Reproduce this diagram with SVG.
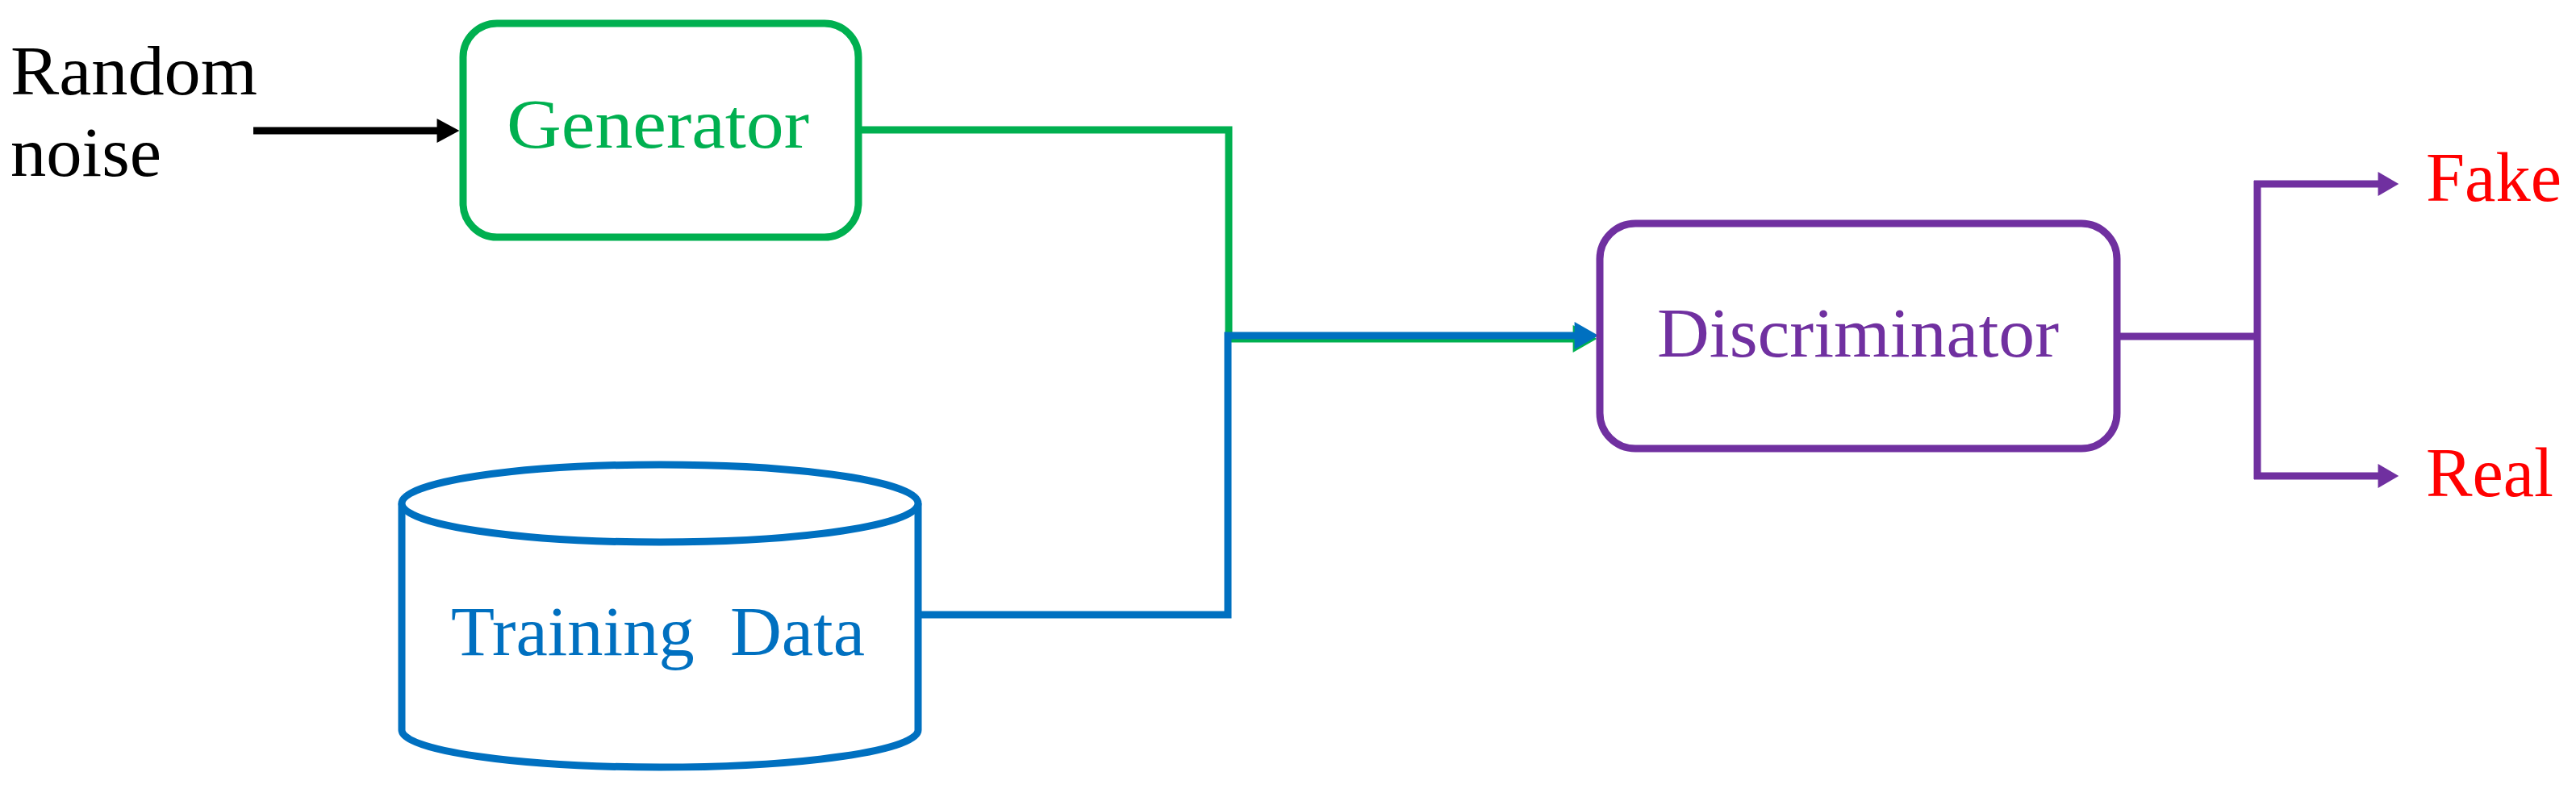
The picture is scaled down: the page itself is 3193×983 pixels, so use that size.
<svg xmlns="http://www.w3.org/2000/svg" width="3193" height="983" viewBox="0 0 3193 983">
<style>
.lbl{font-family:"Liberation Serif",serif;font-size:86px}
.box{fill:#ffffff;stroke-width:9}
.conn{fill:none;stroke-width:9;stroke-linecap:butt}
</style>
<defs>
<marker id="ahBlack" markerUnits="userSpaceOnUse" markerWidth="30" markerHeight="30" viewBox="0 0 26 28" refX="6" refY="14" orient="auto"><path d="M0,0 L26,14 L0,28 z" fill="#000000"/></marker>
<marker id="ahGreen" markerUnits="userSpaceOnUse" markerWidth="32" markerHeight="34" viewBox="0 0 28 32" refX="6" refY="16" orient="auto"><path d="M0,0 L28,16 L0,32 z" fill="#00B050"/></marker>
<marker id="ahBlue" markerUnits="userSpaceOnUse" markerWidth="32" markerHeight="34" viewBox="0 0 28 32" refX="6" refY="16" orient="auto"><path d="M0,0 L28,16 L0,32 z" fill="#0070C0"/></marker>
<marker id="ahPurple" markerUnits="userSpaceOnUse" markerWidth="30" markerHeight="30" viewBox="0 0 24 28" refX="6" refY="14" orient="auto"><path d="M0,0 L24,14 L0,28 z" fill="#7030A0"/></marker>
</defs>
<rect width="3193" height="983" fill="#ffffff"/>
<g id="connectors">
<line class="conn" x1="314" y1="162" x2="548" y2="162" stroke="#000000" marker-end="url(#ahBlack)"/>
<path class="conn" d="M1068,161 H1523 V420 H1956" stroke="#00B050" marker-end="url(#ahGreen)"/>
<path class="conn" d="M1140,762 H1522 V416 H1958" stroke="#0070C0" stroke-width="10" marker-end="url(#ahBlue)"/>
<path class="conn" d="M2628,417 H2798" stroke="#7030A0"/>
<path class="conn" d="M2798,224 V594" stroke="#7030A0"/>
<path class="conn" d="M2794,228 H2954" stroke="#7030A0" marker-end="url(#ahPurple)"/>
<path class="conn" d="M2794,590 H2954" stroke="#7030A0" marker-end="url(#ahPurple)"/>
</g>
<g id="random-noise">
<text class="lbl" font-family="Liberation Serif, serif" x="13" y="117" textLength="306" lengthAdjust="spacingAndGlyphs" fill="#000000">Random</text>
<text class="lbl" font-family="Liberation Serif, serif" x="13" y="218" textLength="187" lengthAdjust="spacingAndGlyphs" fill="#000000">noise</text>
</g>
<g id="generator">
<rect class="box" x="574" y="29" width="490" height="265" rx="42" ry="42" stroke="#00B050"/>
<text class="lbl" font-family="Liberation Serif, serif" x="628" y="183" textLength="375" lengthAdjust="spacingAndGlyphs" fill="#00B050">Generator</text>
</g>
<g id="training-data">
<path class="box" d="M498,624 V905 A320,46 0 0 0 1138,905 V624" stroke="#0070C0"/>
<ellipse class="box" cx="818" cy="624" rx="320" ry="48" stroke="#0070C0"/>
<text class="lbl" font-family="Liberation Serif, serif" x="559" y="812" textLength="513" lengthAdjust="spacingAndGlyphs" fill="#0070C0" xml:space="preserve">Training  Data</text>
</g>
<g id="discriminator">
<rect class="box" x="1983" y="277" width="641" height="279" rx="44" ry="44" stroke="#7030A0"/>
<text class="lbl" font-family="Liberation Serif, serif" x="2054" y="442" textLength="498" lengthAdjust="spacingAndGlyphs" fill="#7030A0">Discriminator</text>
</g>
<g id="fake">
<text class="lbl" font-family="Liberation Serif, serif" x="3007" y="249" textLength="168" lengthAdjust="spacingAndGlyphs" fill="#FF0000">Fake</text>
</g>
<g id="real">
<text class="lbl" font-family="Liberation Serif, serif" x="3007" y="615" textLength="158" lengthAdjust="spacingAndGlyphs" fill="#FF0000">Real</text>
</g>
</svg>
